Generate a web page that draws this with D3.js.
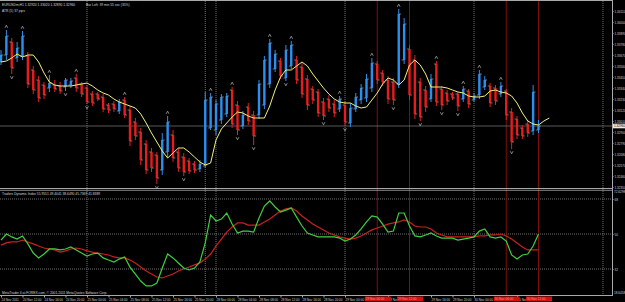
<!DOCTYPE html>
<html><head><meta charset="utf-8">
<script src="https://cdn.jsdelivr.net/npm/d3@7"></script>
<style>html,body{margin:0;padding:0;background:#000;overflow:hidden}text{font-family:"Liberation Sans",Arial,sans-serif}</style>
</head><body><svg id="c" width="625" height="302"></svg>
<script>
// ---- data (H1 bars from 24 Nov 2011 08:00) ----
const haOpen = [1.3360,1.3367,1.3380,1.3364,1.3366,1.3366,1.3352,1.3342,1.3337,1.3334, 1.3337,1.3336,1.3335,1.3337,1.3344,1.3338,1.3334,1.3328,1.3328,1.3325, 1.3317,1.3318,1.3311,1.3322,1.3312,1.3300,1.3290,1.3278,1.3270,1.3267, 1.3252,1.3270,1.3287,1.3270,1.3265,1.3261,1.3258,1.3253,1.3256,1.3294, 1.3292,1.3302,1.3308,1.3332,1.3317,1.3296,1.3315,1.3307,1.3307,1.3317, 1.3338,1.3353,1.3361,1.3344,1.3356,1.3362,1.3355,1.3343,1.3333,1.3330, 1.3320,1.3323,1.3318,1.3313,1.3317,1.3299,1.3313,1.3322,1.3324,1.3334, 1.3358,1.3349,1.3342,1.3340,1.3338,1.3362,1.3373,1.3362,1.3340,1.3332, 1.3323,1.3358,1.3333,1.3329,1.3328,1.3328,1.3323,1.3331,1.3322,1.3327, 1.3335,1.3336,1.3334,1.3328,1.3331,1.3310,1.3303,1.3294,1.3298,1.3291, 1.3292];
const haHigh = [1.3372,1.3392,1.3384,1.3380,1.3391,1.3370,1.3356,1.3346,1.3340,1.3347, 1.3342,1.3340,1.3344,1.3344,1.3348,1.3340,1.3337,1.3331,1.3330,1.3328, 1.3319,1.3321,1.3323,1.3325,1.3316,1.3304,1.3294,1.3282,1.3274,1.3270, 1.3289,1.3306,1.3292,1.3274,1.3269,1.3264,1.3261,1.3262,1.3330,1.3329, 1.3322,1.3328,1.3329,1.3335,1.3321,1.3311,1.3319,1.3311,1.3342,1.3366, 1.3383,1.3372,1.3364,1.3377,1.3381,1.3366,1.3359,1.3347,1.3336,1.3333, 1.3324,1.3327,1.3322,1.3326,1.3321,1.3319,1.3329,1.3338,1.3348,1.3364, 1.3361,1.3352,1.3346,1.3344,1.3413,1.3404,1.3377,1.3367,1.3344,1.3336, 1.3348,1.3361,1.3336,1.3332,1.3330,1.3330,1.3336,1.3333,1.3329,1.3352, 1.3346,1.3339,1.3337,1.3340,1.3333,1.3314,1.3306,1.3297,1.3302,1.3337, 1.3302];
const haLow = [1.3357,1.3362,1.3348,1.3360,1.3362,1.3334,1.3328,1.3320,1.3323,1.3330, 1.3330,1.3328,1.3331,1.3334,1.3330,1.3325,1.3318,1.3316,1.3321,1.3310, 1.3309,1.3310,1.3308,1.3304,1.3276,1.3282,1.3257,1.3248,1.3250,1.3238, 1.3247,1.3264,1.3260,1.3250,1.3246,1.3248,1.3249,1.3250,1.3254,1.3292, 1.3287,1.3298,1.3305,1.3294,1.3287,1.3293,1.3297,1.3277,1.3303,1.3313, 1.3334,1.3350,1.3343,1.3341,1.3353,1.3338,1.3324,1.3312,1.3318,1.3305, 1.3302,1.3310,1.3305,1.3310,1.3296,1.3295,1.3310,1.3318,1.3320,1.3330, 1.3338,1.3336,1.3318,1.3317,1.3334,1.3358,1.3322,1.3303,1.3301,1.3310, 1.3320,1.3316,1.3312,1.3317,1.3322,1.3311,1.3320,1.3314,1.3320,1.3323, 1.3332,1.3315,1.3317,1.3325,1.3302,1.3273,1.3283,1.3283,1.3285,1.3287, 1.3289];
const haClose = [1.3367,1.3386,1.3354,1.3374,1.3386,1.3338,1.3332,1.3324,1.3327,1.3339, 1.3333,1.3331,1.3342,1.3341,1.3334,1.3328,1.3320,1.3319,1.3323,1.3313, 1.3312,1.3313,1.3320,1.3307,1.3281,1.3286,1.3262,1.3252,1.3254,1.3244, 1.3282,1.3300,1.3264,1.3254,1.3250,1.3251,1.3252,1.3258,1.3322,1.3325, 1.3318,1.3325,1.3326,1.3298,1.3292,1.3307,1.3301,1.3286,1.3338,1.3362, 1.3379,1.3368,1.3346,1.3372,1.3377,1.3342,1.3328,1.3317,1.3322,1.3309, 1.3306,1.3314,1.3309,1.3323,1.3300,1.3314,1.3325,1.3334,1.3343,1.3359, 1.3342,1.3340,1.3323,1.3322,1.3408,1.3398,1.3327,1.3308,1.3305,1.3315, 1.3343,1.3320,1.3317,1.3321,1.3324,1.3316,1.3333,1.3318,1.3326,1.3348, 1.3342,1.3319,1.3321,1.3336,1.3307,1.3280,1.3287,1.3286,1.3289,1.3330, 1.3296];
const maLine = [1.3360,1.3361,1.3364,1.3368,1.3365,1.3367,1.3367,1.3360,1.3349,1.3340, 1.3337,1.3336,1.3336,1.3336,1.3337,1.3338,1.3339,1.3336,1.3332,1.3329, 1.3327,1.3323,1.3320,1.3318,1.3316,1.3314,1.3308,1.3299,1.3289,1.3280, 1.3271,1.3264,1.3269,1.3274,1.3274,1.3270,1.3265,1.3260,1.3257,1.3259, 1.3282,1.3293,1.3299,1.3305,1.3310,1.3309,1.3306,1.3304,1.3304,1.3304, 1.3316,1.3332,1.3345,1.3352,1.3352,1.3356,1.3360,1.3356,1.3348,1.3341, 1.3334,1.3328,1.3323,1.3320,1.3319,1.3319,1.3316,1.3314,1.3315,1.3322, 1.3329,1.3338,1.3344,1.3342,1.3337,1.3342,1.3357,1.3362,1.3357,1.3348, 1.3335,1.3335,1.3335,1.3334,1.3332,1.3330,1.3329,1.3326,1.3325,1.3325, 1.3326,1.3331,1.3332,1.3330,1.3329,1.3326,1.3319,1.3309,1.3301,1.3298, 1.3297,1.3301,1.3304];
const fractalUp = [1,4,9,14,23,31,39,43,50,54,63,69,74,81,86,89,93];
const fractalDown = [2,12,16,29,34,44,47,53,60,64,73,78,82,85,95];
const tdiPrice = [46.9,50.0,48.5,47.4,49.0,44.9,40.2,37.7,39.7,42.3, 42.3,41.8,42.3,43.3,41.8,40.2,38.7,39.7,40.2,37.7, 36.6,35.6,37.1,38.2,33.0,29.4,25.8,23.3,23.3,24.8, 32.5,39.7,37.7,35.1,32.5,31.5,32.5,35.6,45.4,59.8, 56.7,57.7,60.8,55.1,50.5,51.5,51.5,51.0,58.2,64.4, 67.0,63.9,61.3,62.3,63.4,58.7,54.1,50.5,49.5,48.5, 48.5,48.5,48.5,47.9,46.4,47.4,49.5,52.6,56.2,59.3, 58.7,55.1,51.0,51.5,60.8,60.8,54.1,49.0,48.5,49.5, 50.5,49.0,47.9,47.9,47.9,46.9,47.4,47.9,48.5,51.5, 52.6,48.5,47.9,48.5,46.4,39.2,37.1,39.2,39.7,43.8, 50.0];
const tdiSignal = [44.3,45.4,45.9,45.9,46.9,45.9,44.9,43.8,42.8,42.3, 41.8,40.7,41.3,42.3,42.8,42.3,41.3,40.7,40.2,39.7, 39.2,38.2,37.7,37.7,36.6,35.1,33.0,31.0,29.4,27.9, 27.4,28.4,29.4,31.0,32.0,33.0,34.1,35.1,37.1,39.7, 43.8,47.4,51.0,53.6,55.7,55.7,54.6,54.6,54.6,56.2, 57.7,59.8,61.8,62.9,63.4,61.8,59.3,57.2,55.1,53.6, 52.1,50.5,49.5,48.5,47.9,47.4,47.9,49.0,50.5,52.1, 53.1,54.1,55.1,55.7,56.2,57.2,56.2,54.1,53.6,53.6, 52.6,50.5,49.5,48.5,48.5,48.5,48.5,48.5,48.5,49.0, 49.0,49.5,49.5,50.0,49.0,47.4,45.4,43.3,41.8,41.8, 41.8];
const priceTicks = [1.3411,1.3400,1.3389,1.3378,1.3367,1.3356,1.3345,1.3334,1.3323,1.3312,1.3301,1.3290,1.3279,1.3268,1.3257,1.3246,1.3235];
const bidPrice = 1.3296;
const tdiLevels = [68,50,32];
const tdiRangeLabels = [72.6298,18.6458];
const timeTickIdx = [0,4,8,12,16,20,24,28,32,36,40,44,48,52,56,60,64,72,80,84,88,96];
const timeTickLabels = ["24 Nov 2011","24 Nov 12:00","24 Nov 16:00","24 Nov 20:00","25 Nov 00:00","25 Nov 04:00","25 Nov 08:00","25 Nov 12:00","25 Nov 16:00","25 Nov 20:00","28 Nov 00:00","28 Nov 04:00","28 Nov 08:00","28 Nov 12:00","28 Nov 16:00","28 Nov 20:00","29 Nov 00:00","29 Nov 08:00","29 Nov 16:00","29 Nov 20:00","30 Nov 00:00","30 Nov 08:00"];
const daySeparators = [16,38,40,64,88,112];
const sessionLines = [70,76,94,100];
const sessionLabels = ["29 Nov 06:00","29 Nov 12:00","30 Nov 06:00","30 Nov 12:00"];

// ---- layout ----
const svg = d3.select("#c");
svg.append("rect").attr("width",625).attr("height",302).attr("fill","#000");
const x = d3.scaleLinear().domain([0,112]).range([1,603]);
const yP = d3.scaleLinear().domain([1.3422,1.3234]).range([0,188]);
const yT = d3.scaleLinear().domain([68,32]).range([199,269]);
const grey = "#8c8c8c";

daySeparators.forEach(i=>{
  svg.append("line").attr("x1",x(i)).attr("x2",x(i)).attr("y1",1).attr("y2",295)
    .attr("stroke",grey).attr("stroke-width",0.8).attr("stroke-dasharray","1,1");
});
tdiLevels.forEach(v=>{
  svg.append("line").attr("x1",0).attr("x2",612).attr("y1",yT(v)).attr("y2",yT(v))
    .attr("stroke",grey).attr("stroke-width",0.8).attr("stroke-dasharray","1,1");
});
sessionLines.forEach(i=>{
  svg.append("line").attr("x1",x(i)).attr("x2",x(i)).attr("y1",1).attr("y2",295)
    .attr("stroke","#8e1010").attr("stroke-width",0.9);
});
svg.append("line").attr("x1",0).attr("x2",612).attr("y1",yP(bidPrice)).attr("y2",yP(bidPrice))
  .attr("stroke","#6e6e6e").attr("stroke-width",0.8);

// HA bars
const bars = d3.range(haOpen.length);
const col = i => haClose[i] >= haOpen[i] ? "#2b8ff0" : "#e81c1c";
const g = svg.append("g");
g.selectAll("line.w").data(bars).join("line")
  .attr("x1",i=>x(i)).attr("x2",i=>x(i)).attr("y1",i=>yP(haHigh[i])).attr("y2",i=>yP(haLow[i]))
  .attr("stroke",col).attr("stroke-width",1);
g.selectAll("rect.b").data(bars).join("rect")
  .attr("x",i=>x(i)-1.2).attr("width",2.4)
  .attr("y",i=>Math.min(yP(haOpen[i]),yP(haClose[i])))
  .attr("height",i=>Math.max(1,Math.abs(yP(haOpen[i])-yP(haClose[i]))))
  .attr("fill",col);
g.selectAll("line.o").data(bars).join("line")
  .attr("x1",i=>x(i)-2.4).attr("x2",i=>x(i)-0.3).attr("y1",i=>yP(haOpen[i])).attr("y2",i=>yP(haOpen[i]))
  .attr("stroke","#a0a0a0").attr("stroke-width",0.7);
g.selectAll("line.c").data(bars).join("line")
  .attr("x1",i=>x(i)+0.3).attr("x2",i=>x(i)+2.4).attr("y1",i=>yP(haClose[i])).attr("y2",i=>yP(haClose[i]))
  .attr("stroke","#a0a0a0").attr("stroke-width",0.7);

// fractals
svg.selectAll("path.fu").data(fractalUp).join("path")
  .attr("d",i=>{const cx=x(i), cy=yP(haHigh[i])-3.5; return `M${cx-1.4},${cy+1.3}L${cx},${cy-1.3}L${cx+1.4},${cy+1.3}`;})
  .attr("fill","none").attr("stroke","#b8b8b8").attr("stroke-width",0.7);
svg.selectAll("path.fd").data(fractalDown).join("path")
  .attr("d",i=>{const cx=x(i), cy=yP(haLow[i])+3.5; return `M${cx-1.4},${cy-1.3}L${cx},${cy+1.3}L${cx+1.4},${cy-1.3}`;})
  .attr("fill","none").attr("stroke","#b8b8b8").attr("stroke-width",0.7);

// MA line
svg.append("path").datum(maLine)
  .attr("d",d3.line().x((d,i)=>x(i)).y(d=>yP(d)))
  .attr("fill","none").attr("stroke","#f2f27a").attr("stroke-width",1);

// TDI lines
svg.append("path").datum(tdiSignal)
  .attr("d",d3.line().x((d,i)=>x(i)).y(d=>yT(d)))
  .attr("fill","none").attr("stroke","#cc1f1f").attr("stroke-width",1.2);
svg.append("path").datum(tdiPrice)
  .attr("d",d3.line().x((d,i)=>x(i)).y(d=>yT(d)))
  .attr("fill","none").attr("stroke","#3fd03f").attr("stroke-width",1.2);

// panel borders
const border = "#a8a8a8";
svg.append("line").attr("x1",0).attr("x2",612).attr("y1",0.5).attr("y2",0.5).attr("stroke",border).attr("stroke-width",1);
svg.append("line").attr("x1",0).attr("x2",612).attr("y1",188.5).attr("y2",188.5).attr("stroke",border).attr("stroke-width",1.2);
svg.append("line").attr("x1",0).attr("x2",612).attr("y1",190.3).attr("y2",190.3).attr("stroke",border).attr("stroke-width",0.8);
svg.append("line").attr("x1",0).attr("x2",612).attr("y1",295.5).attr("y2",295.5).attr("stroke",border).attr("stroke-width",1);
svg.append("line").attr("x1",612.5).attr("x2",612.5).attr("y1",0).attr("y2",296).attr("stroke",border).attr("stroke-width",1);

// right price axis
const axP = svg.append("g").attr("transform","translate(612,0)")
  .call(d3.axisRight(yP).tickValues(priceTicks).tickFormat(d=>d.toFixed(5)).tickSize(1.5).tickPadding(1));
axP.select(".domain").remove();
axP.selectAll("line").attr("stroke",border);
axP.selectAll("text").attr("fill","#cfcfcf").attr("font-size",3.1).attr("font-family","Liberation Sans, Arial");
svg.append("rect").attr("x",613).attr("y",yP(bidPrice)-2.3).attr("width",12).attr("height",4.6).attr("fill","#e8e8e8");
svg.append("text").attr("x",614).attr("y",yP(bidPrice)+1.1).attr("font-size",3.1).attr("fill","#000").text(bidPrice.toFixed(5));

// right TDI axis
const axT = svg.append("g").attr("transform","translate(612,0)")
  .call(d3.axisRight(yT).tickValues(tdiLevels).tickFormat(d3.format("d")).tickSize(1.5).tickPadding(1));
axT.select(".domain").remove();
axT.selectAll("line").attr("stroke",border);
axT.selectAll("text").attr("fill","#cfcfcf").attr("font-size",3.1).attr("font-family","Liberation Sans, Arial");
svg.selectAll("text.tr").data(tdiRangeLabels).join("text")
  .attr("x",614).attr("y",(d,k)=>k===0?yT(d)+3:yT(d)-0.5)
  .attr("font-size",3.1).attr("fill","#cfcfcf").text(d=>d.toFixed(4));

// time axis
const axX = svg.append("g").attr("transform","translate(0,296)")
  .call(d3.axisBottom(x).tickValues(timeTickIdx).tickFormat((d,k)=>timeTickLabels[k]).tickSize(1.5).tickPadding(0.5));
axX.select(".domain").remove();
axX.selectAll("line").attr("stroke",border);
axX.selectAll("text").attr("fill","#cfcfcf").attr("font-size",3.1).attr("text-anchor","start").attr("dy","0.9em").attr("font-family","Liberation Sans, Arial");
sessionLines.forEach((i,k)=>{
  svg.append("rect").attr("x",x(i)-12.5).attr("y",296.5).attr("width",26).attr("height",4.6).attr("fill","#d41010");
  svg.append("text").attr("x",x(i)-11.5).attr("y",300.3).attr("font-size",3.1).attr("fill","#ff9a9a").text(sessionLabels[k]);
});

// header texts
const t = (xx,yy,s)=>svg.append("text").attr("x",xx).attr("y",yy).attr("font-size",3.3).attr("fill","#d6d6d6").text(s);
t(2,5.5,"EURUSDm,H1  1.32920 1.33020 1.32890 1.32960");
t(86,5.5,"Bar Left: 39 min 55 sec (35%)");
t(2,11.5,"ATR (5)    37 pips");
t(2,195,"Traders Dynamic Index 55.9551 49.4041 38.6490 45.7369 41.8389");
t(2,294,"MetaTrader 4 at FOREX.com, © 2001-2011 MetaQuotes Software Corp.");
</script></body></html>
